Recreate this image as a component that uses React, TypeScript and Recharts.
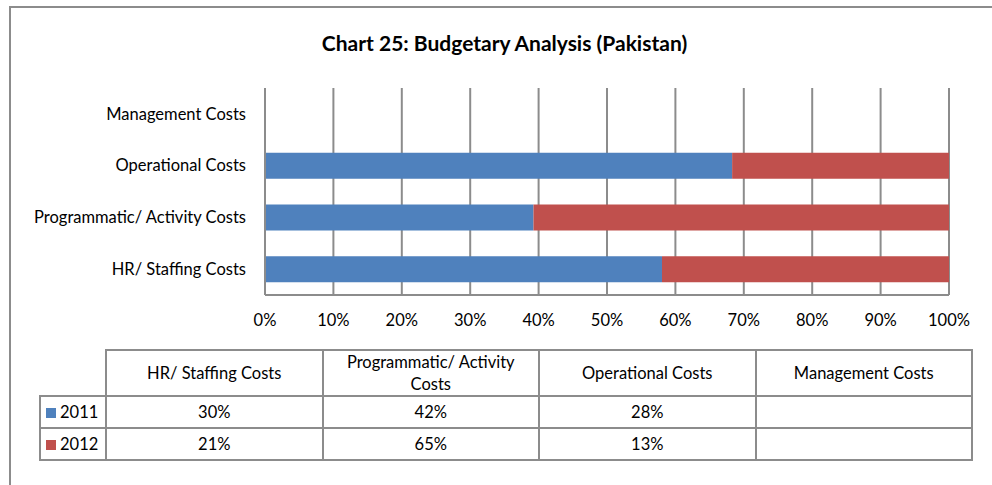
import React from 'react';
import { BarChart, Bar, XAxis, YAxis, CartesianGrid } from 'recharts';

// ── Chart 25: Budgetary Analysis (Pakistan) ──

const CATEGORIES = ['HR/ Staffing Costs', 'Programmatic/ Activity Costs', 'Operational Costs', 'Management Costs'];
const SERIES_2011 = [29.6, 42, 28, null];
const SERIES_2012 = [21.4, 65, 13, null];
const YEARS = ['2011', '2012'];
const TICKS = [0, 0.1, 0.2, 0.3, 0.4, 0.5, 0.6, 0.7, 0.8, 0.9, 1];

const BLUE = '#4F81BD';
const RED = '#C0504D';
const GRID = '#8c8c8c';
const FONT = "Lato, 'Open Sans', sans-serif";

// chart draws top-to-bottom, Excel draws the first category at the bottom
const chartData = CATEGORIES.map((name, i) => ({
  name,
  y2011: SERIES_2011[i],
  y2012: SERIES_2012[i],
})).reverse();

const fmtPct = (v: number | null) => (v == null ? '' : `${Math.round(v)}%`);

const cellBorder = `2px solid ${GRID}`;

function DataTable() {
  const rows = [
    { label: YEARS[0], color: BLUE, values: SERIES_2011 },
    { label: YEARS[1], color: RED, values: SERIES_2012 },
  ];
  return (
    <table
      style={{
        position: 'absolute',
        left: 39,
        top: 349,
        borderCollapse: 'collapse',
        tableLayout: 'fixed',
        width: 932,
        fontFamily: FONT,
        fontSize: 16.5,
        color: '#000',
      }}
    >
      <colgroup>
        <col style={{ width: 66 }} />
        {CATEGORIES.map((c) => (
          <col key={c} style={{ width: 216.5 }} />
        ))}
      </colgroup>
      <tbody>
        <tr style={{ height: 46 }}>
          <td style={{ border: 'none', borderBottom: cellBorder, borderRight: cellBorder }} />
          {CATEGORIES.map((c) => (
            <td key={c} style={{ border: cellBorder, textAlign: 'center', padding: 0, lineHeight: '22px' }}>
              <div style={{ width: 185, margin: '0 auto' }}>{c}</div>
            </td>
          ))}
        </tr>
        {rows.map((r) => (
          <tr key={r.label} style={{ height: 32 }}>
            <td style={{ border: cellBorder, padding: '0 0 0 5px', whiteSpace: 'nowrap' }}>
              <span
                style={{
                  display: 'inline-block',
                  width: 10,
                  height: 10,
                  background: r.color,
                  marginRight: 4,
                }}
              />
              {r.label}
            </td>
            {r.values.map((v, i) => (
              <td key={i} style={{ border: cellBorder, textAlign: 'center', padding: 0 }}>
                {fmtPct(v)}
              </td>
            ))}
          </tr>
        ))}
      </tbody>
    </table>
  );
}

export default function App() {
  return (
    <div style={{ position: 'fixed', left: 0, top: 0, width: 992, height: 485, overflow: 'hidden', background: '#fff' }}>
      <div
        style={{
          position: 'absolute',
          left: 9,
          top: 6,
          width: 1100,
          height: 600,
          border: `2px solid ${GRID}`,
        }}
      />
      <div
        style={{
          position: 'absolute',
          left: 0,
          width: 1009,
          top: 30,
          textAlign: 'center',
          fontFamily: FONT,
          fontWeight: 700,
          fontSize: 21,
          color: '#000',
        }}
      >
        Chart 25: Budgetary Analysis (Pakistan)
      </div>
      <div style={{ position: 'absolute', left: 0, top: 0 }}>
        <BarChart
          width={992}
          height={340}
          data={chartData}
          layout="vertical"
          stackOffset="expand"
          margin={{ top: 88, right: 43, bottom: 0, left: 0 }}
          barSize={26}
        >
          <CartesianGrid horizontal={false} stroke={GRID} strokeWidth={2} />
          <XAxis
            type="number"
            domain={[0, 1]}
            ticks={TICKS}
            tickFormatter={(v: number) => `${Math.round(v * 100)}%`}
            axisLine={{ stroke: GRID, strokeWidth: 2 }}
            tickLine={false}
            tickSize={0}
            tickMargin={19}
            height={45}
            tick={{ fontSize: 16.5, fontFamily: FONT, fill: '#000' }}
          />
          <YAxis
            type="category"
            dataKey="name"
            width={265}
            axisLine={{ stroke: GRID, strokeWidth: 2 }}
            tickLine={false}
            tickSize={0}
            tickMargin={19}
            tick={{ fontSize: 16.5, fontFamily: FONT, fill: '#000' }}
          />
          <Bar dataKey="y2011" stackId="a" fill={BLUE} isAnimationActive={false} />
          <Bar dataKey="y2012" stackId="a" fill={RED} isAnimationActive={false} />
        </BarChart>
      </div>
      <DataTable />
    </div>
  );
}
